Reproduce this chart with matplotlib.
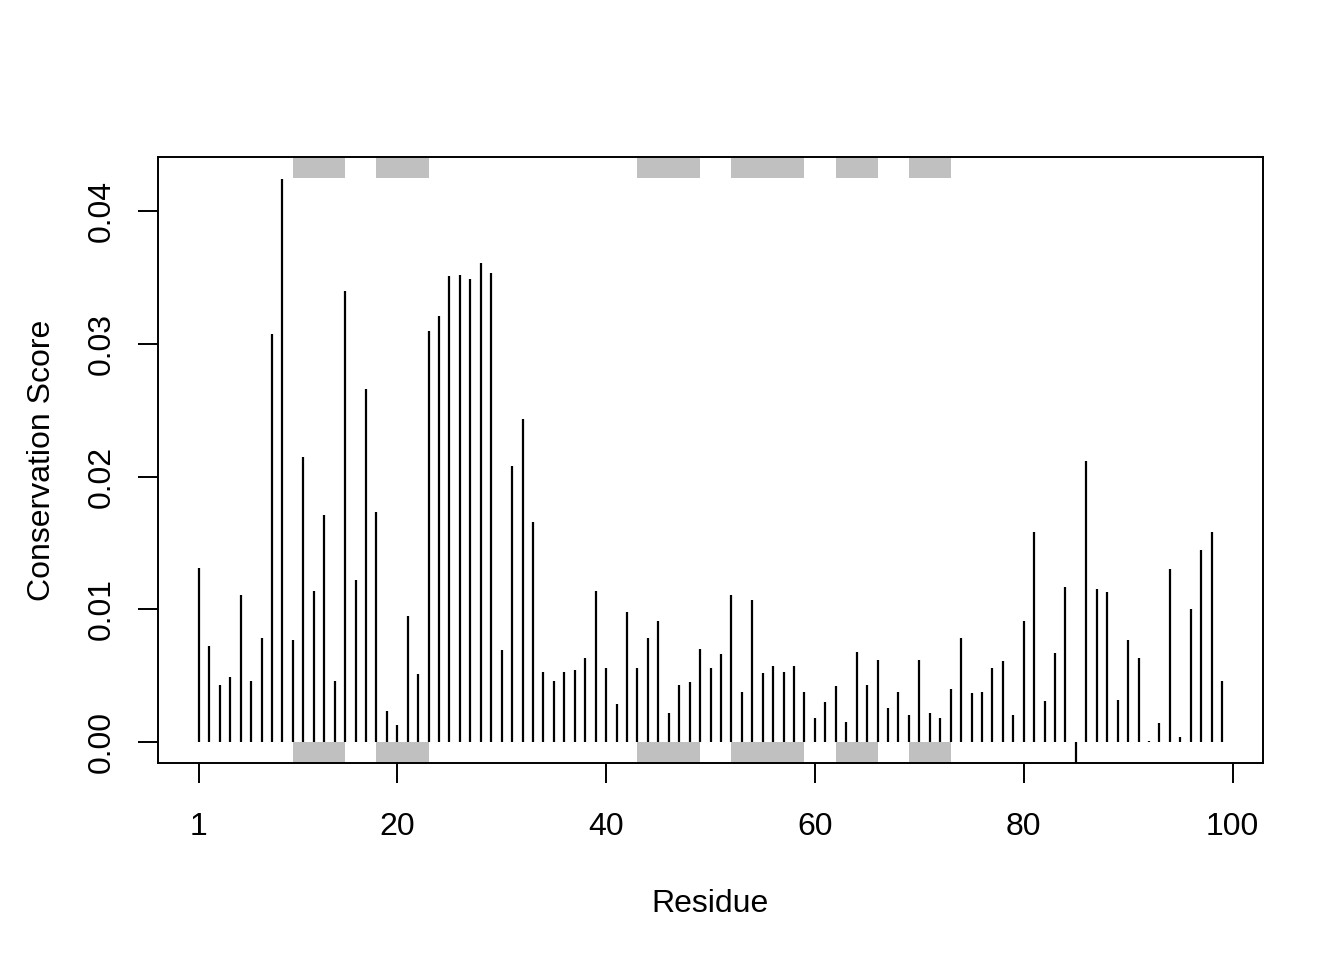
import numpy as np
import matplotlib
matplotlib.use('Agg')
import matplotlib.pyplot as plt
from matplotlib.patches import Rectangle

plt.rcParams['font.family'] = ['Liberation Sans', 'DejaVu Sans']

# conservation score per residue
residue = np.arange(1, 100)
score = [0.0131, 0.0072, 0.0043, 0.0049, 0.0111, 0.0046, 0.0078, 0.0307, 0.0424, 0.0077,
         0.0215, 0.0114, 0.0171, 0.0046, 0.0340, 0.0122, 0.0266, 0.0173, 0.0023, 0.0013,
         0.0095, 0.0051, 0.0310, 0.0321, 0.0351, 0.0352, 0.0349, 0.0361, 0.0353, 0.0069,
         0.0208, 0.0243, 0.0166, 0.0053, 0.0046, 0.0053, 0.0054, 0.0063, 0.0114, 0.0056,
         0.0029, 0.0098, 0.0056, 0.0078, 0.0091, 0.0022, 0.0043, 0.0045, 0.0070, 0.0056,
         0.0066, 0.0111, 0.0038, 0.0107, 0.0052, 0.0057, 0.0053, 0.0057, 0.0038, 0.0018,
         0.0030, 0.0042, 0.0015, 0.0068, 0.0043, 0.0062, 0.0026, 0.0038, 0.0020, 0.0062,
         0.0022, 0.0018, 0.0040, 0.0078, 0.0037, 0.0038, 0.0056, 0.0061, 0.0020, 0.0091,
         0.0158, 0.0031, 0.0067, 0.0117, -0.0016, 0.0212, 0.0115, 0.0113, 0.0032, 0.0077,
         0.0063, 0.0001, 0.0014, 0.0130, 0.0004, 0.0100, 0.0145, 0.0158, 0.0046]

# secondary structure segments (start, end)
sse_start = [10, 18, 43, 52, 62, 69]
sse_end = [15, 23, 49, 59, 66, 73]

fig = plt.figure(figsize=(13.44, 9.6), dpi=100)
ax = fig.add_axes([158/1344, 1 - 763/960, (1263-158)/1344, (763-157)/960])

ymin, ymax = -0.00158, 0.04407
ax.vlines(residue, 0, score, color='black', linewidth=1.6, clip_on=True)
ax.set_xlim(1 - 0.04*98, 99 + 0.04*98)
ax.set_ylim(ymin, ymax)

# sse rectangles at top and bottom margin bands
band = 0.00158
for s, e in zip(sse_start, sse_end):
    ax.add_patch(Rectangle((s, ymax - band), e - s, band, facecolor='#C0C0C0',
                           edgecolor='none', zorder=1))
    ax.add_patch(Rectangle((s, ymin), e - s, band, facecolor='#C0C0C0',
                           edgecolor='none', zorder=1))

ax.set_xticks([1, 20, 40, 60, 80, 100])
ax.set_yticks([0.0, 0.01, 0.02, 0.03, 0.04])
ax.set_yticklabels(['0.00', '0.01', '0.02', '0.03', '0.04'], rotation=90, va='center')
ax.tick_params(direction='out', length=14.4, width=1.4, labelsize=23, pad=21)
ax.tick_params(axis='y', pad=15)
for sp in ax.spines.values():
    sp.set_linewidth(1.4)

ax.set_xlabel('Residue', fontsize=23, labelpad=34)
ax.set_ylabel('Conservation Score', fontsize=23, labelpad=22)

fig.savefig('out.png', dpi=100)
